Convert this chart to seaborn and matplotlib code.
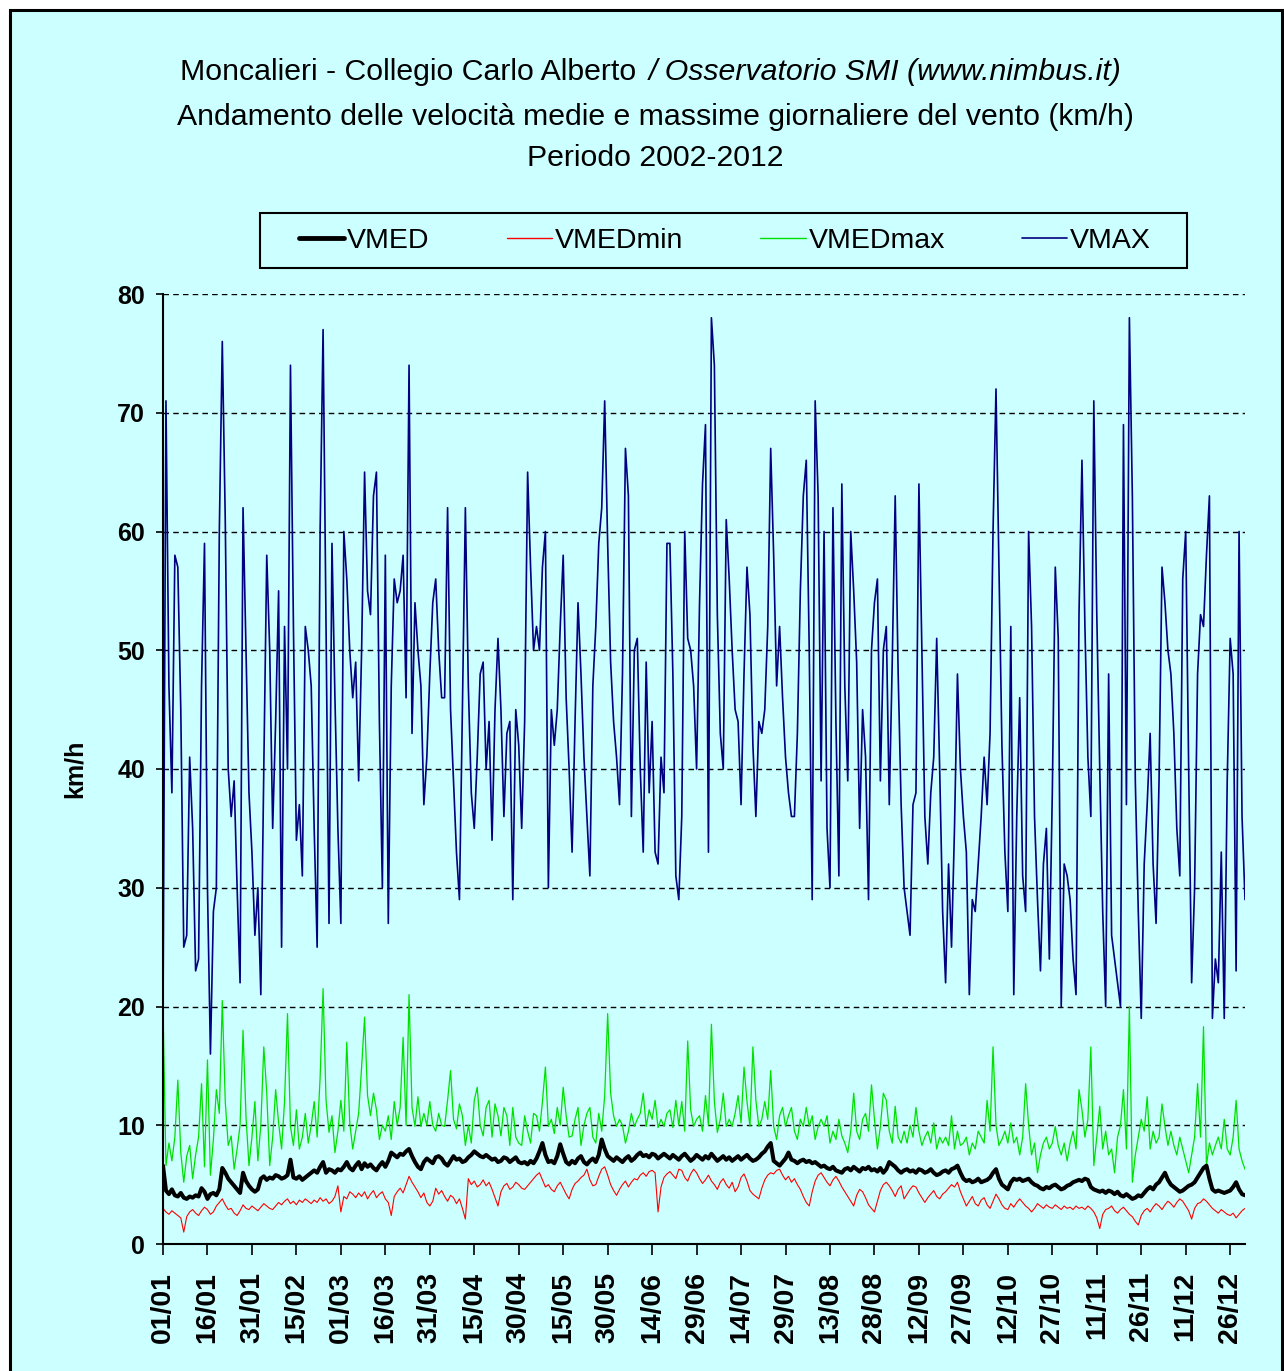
import numpy as np
import pandas as pd
import matplotlib
matplotlib.use('Agg')
import matplotlib.pyplot as plt
from matplotlib.patches import Rectangle
from matplotlib.lines import Line2D
import seaborn as sns

sns.set_style('white')
plt.rcParams['font.family'] = ['Liberation Sans', 'DejaVu Sans']
plt.rcParams['text.color'] = 'black'
plt.rcParams['xtick.color'] = 'black'
plt.rcParams['ytick.color'] = 'black'
plt.rcParams['axes.labelcolor'] = 'black'

# ── data: daily values, 01/01 .. 31/12 (leap year, 366 days) ──
tick_labels = ['01/01', '16/01', '31/01', '15/02', '01/03', '16/03', '31/03', '15/04',
               '30/04', '15/05', '30/05', '14/06', '29/06', '14/07', '29/07', '13/08',
               '28/08', '12/09', '27/09', '12/10', '27/10', '11/11', '26/11', '11/12', '26/12']

vmax = [19, 71, 47, 38, 58, 57, 45, 25, 26, 41,
        35, 23, 24, 47, 59, 30, 16, 28, 30, 60,
        76, 61, 40, 36, 39, 30, 22, 62, 50, 38,
        33, 26, 30, 21, 40, 58, 50, 35, 44, 55,
        25, 52, 40, 74, 52, 34, 37, 31, 52, 50,
        47, 35, 25, 60, 77, 52, 27, 59, 46, 35,
        27, 60, 56, 50, 46, 49, 39, 50, 65, 55,
        53, 63, 65, 44, 30, 58, 27, 47, 56, 54,
        55, 58, 46, 74, 43, 54, 50, 47, 37, 41,
        48, 54, 56, 50, 46, 46, 62, 45, 39, 33,
        29, 45, 62, 47, 38, 35, 41, 48, 49, 40,
        44, 34, 45, 51, 45, 36, 43, 44, 29, 45,
        42, 35, 44, 65, 57, 50, 52, 50, 57, 60,
        30, 45, 42, 45, 52, 58, 46, 40, 33, 44,
        54, 48, 41, 36, 31, 47, 52, 59, 62, 71,
        59, 49, 44, 41, 37, 48, 67, 63, 36, 50,
        51, 40, 33, 49, 38, 44, 33, 32, 41, 38,
        59, 59, 48, 31, 29, 36, 60, 51, 50, 47,
        40, 54, 64, 69, 33, 78, 74, 53, 43, 40,
        61, 56, 50, 45, 44, 37, 48, 57, 53, 42,
        36, 44, 43, 45, 52, 67, 58, 47, 52, 46,
        41, 38, 36, 36, 43, 55, 63, 66, 50, 29,
        71, 63, 39, 60, 35, 30, 62, 44, 31, 64,
        47, 39, 60, 55, 49, 35, 45, 41, 29, 50,
        54, 56, 39, 50, 52, 37, 49, 63, 48, 37,
        30, 28, 26, 37, 38, 64, 50, 36, 32, 38,
        41, 51, 40, 28, 22, 32, 25, 35, 48, 40,
        36, 33, 21, 29, 28, 32, 36, 41, 37, 43,
        60, 72, 57, 42, 33, 28, 52, 21, 36, 46,
        31, 28, 60, 52, 36, 29, 23, 32, 35, 24,
        38, 57, 51, 20, 32, 31, 29, 24, 21, 53,
        66, 52, 41, 36, 71, 53, 40, 28, 20, 48,
        26, 24, 22, 20, 69, 37, 78, 63, 39, 28,
        19, 32, 37, 43, 32, 27, 39, 57, 54, 50,
        48, 43, 35, 31, 56, 60, 40, 22, 30, 48,
        53, 52, 58, 63, 19, 24, 22, 33, 19, 39,
        51, 48, 23, 60, 36, 29]

vmedmax = [20, 6.6, 8.5, 7, 9, 13.8, 7.7, 5.2, 7.4, 8.3,
           5.5, 7.5, 9, 13.5, 6.5, 15.5, 5.8, 8.8, 13, 11,
           20.5, 12, 8.3, 9.1, 6.3, 8, 10, 18, 10.7, 6.6,
           9, 12, 7, 10, 16.6, 12.7, 6.6, 9, 13, 10.2,
           8, 12, 19.4, 9.9, 8.3, 11.3, 8, 9, 11, 8.5,
           10, 12, 9, 14, 21.5, 12.1, 9.4, 10.8, 7.7, 9.5,
           12.1, 9.5, 17, 10.2, 8, 9.5, 11, 14.9, 19.1, 12.5,
           10.8, 12.7, 11.3, 8.8, 10, 9.5, 10.8, 8.8, 12, 10,
           11.5, 17.4, 10, 21, 11.5, 9.9, 12.4, 9.9, 11, 10,
           12, 10, 9.5, 11, 10, 9.9, 12.1, 14.6, 10.5, 9.7,
           11.8, 10.8, 8.3, 10, 8.5, 12.1, 13.2, 10, 9.1, 11.5,
           12.1, 9, 11.8, 10.8, 9.1, 11.5, 10.8, 8.3, 11.5, 9,
           8.5, 8.3, 10.8, 9.5, 8.5, 11, 10.8, 9.5, 12, 14.9,
           9.9, 10.5, 9.3, 11.5, 10, 13.2, 10.8, 9, 9.1, 10.5,
           11.5, 8.3, 10, 11, 11.5, 9, 8.5, 11, 9.5, 12.5,
           19.4, 12.7, 10.8, 9.9, 10.5, 10, 8.5, 9.5, 11, 9.9,
           10.5, 11, 12.7, 9.9, 11.3, 10.5, 12.1, 9.8, 10.5, 9.9,
           11, 11.3, 9.8, 12.1, 10, 12, 9.5, 17.1, 11.3, 9.9,
           10.5, 10.8, 9.5, 12.5, 10, 18.5, 12, 9.4, 10.5, 12.7,
           9.9, 10.5, 9.9, 11, 12.5, 10.2, 14.9, 12, 9.9, 16.6,
           12.1, 9.9, 10.5, 12, 10.5, 14.6, 9.9, 8.8, 10.8, 11.5,
           9.9, 10.8, 11.5, 9.5, 8.8, 10.5, 9.9, 11.5, 9.9, 10.8,
           8.8, 9.9, 10.5, 9.9, 10.8, 8.5, 9.5, 8.8, 10.5, 9.1,
           8.5, 7.7, 9.5, 12.7, 9.5, 8.8, 10.5, 11, 9.5, 13.4,
           10.5, 8, 9.9, 12.7, 12.1, 9.5, 8.5, 11.6, 9, 8.5,
           9.5, 8.5, 10, 9, 11.5, 9.5, 8.3, 9, 9.5, 8.5,
           10.2, 8, 9, 8.5, 9, 8.3, 10.8, 8, 9.5, 8.3,
           8.5, 9, 7.5, 8.5, 8, 9.5, 9, 8.5, 12.1, 9.5,
           16.6, 10, 8.3, 8.8, 9.5, 8.5, 10.2, 8.5, 9, 7.5,
           9, 13.5, 10, 7.5, 8.5, 6, 7.5, 8.5, 9, 8,
           8.5, 9.9, 8.3, 7.5, 8.5, 7, 8.5, 9.5, 8, 13,
           11.3, 9, 10.5, 16.6, 6.6, 9, 11.6, 8, 9.5, 7.5,
           8, 6, 9, 10, 13, 8, 20, 5.2, 7.5, 9,
           10.5, 9.5, 12.4, 8, 9.5, 8.5, 9, 11.8, 9.9, 8.3,
           9.5, 8.3, 7.5, 9, 8, 7, 6, 7.5, 9, 13.5,
           9, 18.3, 6.6, 8.5, 7.5, 8.3, 9, 8, 10.5, 8,
           7.5, 9, 12.1, 8, 7, 6.3]

vmed = [6.6, 4.5, 4.2, 4.6, 4.1, 4.0, 4.3, 3.9, 3.8, 4.0,
        3.9, 4.1, 4.0, 4.7, 4.4, 3.8, 4.2, 4.3, 4.1, 4.6,
        6.4, 6.0, 5.5, 5.2, 4.9, 4.6, 4.3, 6.0, 5.3, 4.9,
        4.6, 4.4, 4.6, 5.5, 5.7, 5.4, 5.6, 5.5, 5.8, 5.7,
        5.5, 5.6, 5.8, 7.1, 5.6, 5.5, 5.7, 5.4, 5.6, 5.8,
        6.0, 6.2, 6.0, 6.5, 6.9, 6.0, 6.3, 6.2, 6.0, 6.3,
        6.2, 6.5, 6.9, 6.4, 6.2, 6.6, 6.9, 6.3, 6.8, 6.5,
        6.7, 6.4, 6.2, 6.6, 6.9, 6.5, 7.0, 7.7, 7.5, 7.3,
        7.6, 7.5, 7.8, 8.0, 7.4, 6.9, 6.5, 6.3, 6.9, 7.2,
        7.0, 6.8, 7.3, 7.4, 7.2, 6.8, 6.6, 7.0, 7.4, 7.1,
        7.2, 6.9, 7.0, 7.3, 7.5, 7.8, 7.6, 7.4, 7.3, 7.5,
        7.3, 7.1, 7.2, 6.9, 7.0, 7.3, 7.2, 6.9, 7.1, 7.3,
        6.9, 6.8, 6.9, 6.7, 7.0, 6.8, 7.2, 7.8, 8.5, 7.5,
        6.9, 7.0, 6.8, 7.4, 8.4, 7.6, 6.9, 6.7, 7.0, 6.8,
        7.2, 7.4, 6.9, 6.7, 7.0, 7.2, 6.9, 7.5, 8.8, 8.0,
        7.4, 7.2, 7.0, 7.3, 7.1, 6.9, 7.2, 7.4, 7.0, 7.2,
        7.5, 7.7, 7.4, 7.5, 7.3, 7.6, 7.5, 7.2, 7.4, 7.6,
        7.4, 7.2, 7.5, 7.3, 7.1, 7.4, 7.6, 7.3, 7.0, 7.2,
        7.5, 7.3, 7.1, 7.4, 7.2, 7.6, 7.3, 7.0, 7.2, 7.4,
        7.1, 7.3, 7.0, 7.2, 7.4, 7.1, 7.3, 7.5, 7.2, 7.0,
        7.1, 7.3, 7.6, 7.8, 8.2, 8.5, 7.0, 6.8, 6.6, 6.9,
        7.2, 7.7, 7.1, 7.0, 6.8, 7.0, 7.1, 6.9, 7.0, 6.8,
        6.9, 6.7, 6.5, 6.6, 6.4, 6.3, 6.5, 6.2, 6.1, 6.0,
        6.3, 6.4, 6.2, 6.5, 6.3, 6.1, 6.4, 6.3, 6.5, 6.2,
        6.3, 6.1, 6.4, 6.0, 6.3, 6.9, 6.7, 6.5, 6.2, 6.0,
        6.2, 6.3, 6.1, 6.2, 6.0, 6.3, 6.2, 6.0, 6.1, 6.3,
        6.0, 5.8, 5.9, 6.1, 6.2, 6.0, 6.3, 6.4, 6.6, 6.0,
        5.5, 5.3, 5.4, 5.2, 5.3, 5.5, 5.2, 5.3, 5.4, 5.6,
        6.0, 6.3, 5.5, 5.0, 4.8, 4.6, 5.2, 5.5, 5.4, 5.5,
        5.3, 5.4, 5.5, 5.2, 5.0, 4.9, 4.7, 4.6, 4.8, 4.7,
        4.9, 5.0, 4.8, 4.6, 4.7, 4.9, 5.0, 5.2, 5.3, 5.4,
        5.3, 5.5, 5.4, 4.8, 4.6, 4.5, 4.4, 4.5, 4.3, 4.5,
        4.4, 4.2, 4.4, 4.1, 4.0, 4.2, 4.0, 3.8, 3.9, 4.1,
        4.0, 4.3, 4.6, 4.8, 4.6, 5.0, 5.2, 5.6, 6.0, 5.4,
        5.0, 4.8, 4.6, 4.4, 4.5, 4.7, 4.9, 5.0, 5.2, 5.6,
        6.0, 6.4, 6.6, 5.5, 4.6, 4.4, 4.5, 4.4, 4.3, 4.4,
        4.5, 4.8, 5.2, 4.6, 4.2, 4.1]

vmedmin = [3.0, 2.7, 2.5, 2.8, 2.6, 2.4, 2.2, 1.0, 2.3, 2.7,
           2.9, 2.6, 2.4, 2.8, 3.1, 2.9, 2.5, 2.7, 3.2, 3.5,
           3.8, 3.3, 2.9, 3.0, 2.6, 2.4, 2.8, 3.3, 3.0, 2.9,
           3.2, 3.0, 2.8, 3.1, 3.4, 3.2, 3.0, 2.9, 3.2, 3.5,
           3.3, 3.6, 3.8, 3.4, 3.6, 3.3, 3.7, 3.5, 3.8, 3.6,
           3.4, 3.7, 3.5, 3.9, 3.6, 3.8, 3.4, 3.6, 4.0, 4.9,
           2.7, 4.0, 3.8, 4.4, 4.2, 3.9, 4.3, 4.0, 4.4, 3.8,
           4.2, 4.5, 3.9, 4.2, 4.4, 3.8, 3.5, 2.4, 4.0, 4.4,
           4.7, 4.3, 5.0, 5.7, 5.2, 4.8, 4.4, 3.9, 4.3, 3.5,
           3.2, 3.6, 4.7, 4.2, 4.5, 4.0, 3.6, 4.1, 3.9, 3.4,
           3.8, 3.0, 2.1, 5.5, 5.0, 5.3, 4.8, 5.0, 5.4, 4.9,
           5.2, 4.6, 3.9, 3.2, 4.4, 4.9, 5.1, 4.6, 4.8, 5.2,
           5.0, 4.7, 4.6, 4.9, 5.2, 5.5, 5.8, 6.0, 5.4, 4.8,
           5.0, 4.6, 4.4, 4.9, 5.2, 4.7, 4.2, 3.8, 4.6, 5.1,
           5.3, 5.6, 5.8, 6.3, 5.4, 4.9, 5.0, 5.7, 6.3, 6.5,
           5.8, 5.0, 4.5, 4.1, 4.6, 5.0, 5.3, 4.8, 5.2, 5.5,
           5.4, 5.8, 6.0, 5.7, 6.1, 6.2, 6.0, 2.7, 4.8, 5.6,
           5.9, 6.1, 5.8, 5.5, 6.3, 6.2, 5.6, 5.3, 5.9, 6.3,
           6.0, 5.5, 5.1, 5.4, 5.8, 5.3, 5.0, 4.6, 5.2, 5.5,
           5.0, 4.7, 5.2, 4.4, 4.8, 5.6, 5.9, 5.3, 4.5, 4.2,
           4.0, 3.8, 4.7, 5.4, 5.8, 6.0, 5.9, 6.2, 6.3, 5.8,
           5.4, 5.7, 5.2, 5.5, 5.0, 4.6, 4.0, 3.5, 3.2, 4.4,
           5.3, 5.8, 6.0, 5.6, 5.2, 4.9, 5.4, 5.7, 5.3, 4.8,
           4.4, 4.0, 3.6, 3.2, 4.1, 4.6, 4.4, 3.9, 3.3, 3.0,
           2.7, 3.6, 4.5, 5.0, 5.2, 4.9, 4.5, 4.0, 4.6, 4.9,
           3.8, 4.2, 4.6, 4.9, 4.8, 4.3, 3.9, 3.5, 3.9, 4.2,
           4.5, 4.0, 3.8, 4.2, 4.4, 4.7, 5.0, 4.8, 5.2, 4.4,
           3.8, 3.2, 3.6, 4.0, 3.4, 3.2, 3.7, 3.9, 3.3, 3.0,
           3.6, 4.2, 3.8, 3.3, 3.0, 2.9, 3.4, 3.1, 3.5, 3.8,
           3.5, 3.2, 3.0, 2.7, 3.0, 3.4, 3.2, 3.0, 3.3, 3.1,
           3.0, 3.3, 3.1, 2.9, 3.2, 3.0, 3.1, 2.9, 3.2, 3.0,
           3.1, 2.9, 3.2, 3.0, 2.7, 2.2, 1.3, 2.5, 2.9, 3.0,
           3.2, 2.8, 2.6, 2.9, 3.1, 2.8, 2.5, 2.3, 1.9, 1.6,
           2.4, 2.8, 3.0, 2.7, 3.1, 3.4, 3.2, 2.9, 3.3, 3.6,
           3.4, 3.1, 3.5, 3.8, 3.6, 3.2, 2.8, 2.1, 3.0, 3.4,
           3.5, 3.8, 3.6, 3.3, 3.0, 2.8, 2.6, 2.9, 2.7, 2.5,
           2.4, 2.6, 2.2, 2.5, 2.8, 3.0]

df = pd.DataFrame({'VMED': vmed, 'VMEDmin': vmedmin, 'VMEDmax': vmedmax, 'VMAX': vmax})
df['giorno'] = np.arange(len(df))

BG = '#CCFFFF'
W, H = 1284, 1371
fig = plt.figure(figsize=(W / 100, H / 100), dpi=100, facecolor='white')

# chart area with black border (bottom edge falls outside the picture)
fig.add_artist(Rectangle((10 / W, -20 / H), 1272 / W, 1381 / H, transform=fig.transFigure,
                         facecolor=BG, edgecolor='black', linewidth=2.2, zorder=-10))

ax = fig.add_axes([163 / W, 1 - 1244 / H, (1245 - 163) / W, (1244 - 294) / H])
ax.set_facecolor('none')

styles = {'VMAX': ('#000080', 1.2), 'VMEDmax': ('#00E000', 0.9),
          'VMEDmin': ('#FF0000', 0.8), 'VMED': ('black', 2.9)}
for col in ['VMAX', 'VMEDmax', 'VMEDmin', 'VMED']:
    color, lw = styles[col]
    sns.lineplot(data=df, x='giorno', y=col, ax=ax, color=color, linewidth=lw, legend=False)

ax.set_xlim(0, 365)
ax.set_ylim(0, 80)
ax.set_yticks(range(0, 81, 10))
ax.set_xticks(df['giorno'][::15])
ax.set_xticklabels(tick_labels, rotation=90, fontsize=20.5, fontweight='bold', color='black')
for t in ax.get_yticklabels():
    t.set_fontsize(18)
    t.set_fontweight('bold')
    t.set_color('black')
ax.set_xlabel('')
ax.set_ylabel('')
ax.tick_params(axis='y', direction='out', length=5, width=1.2, pad=8, left=True, colors='black')
ax.tick_params(axis='x', direction='out', length=8, width=1.2, pad=12, bottom=True, colors='black')
for y in range(10, 81, 10):
    ax.axhline(y, color='black', linewidth=1.0, linestyle=(0, (4, 3)), zorder=0)
sns.despine(ax=ax)
for s in ['left', 'bottom']:
    ax.spines[s].set_color('black')
    ax.spines[s].set_linewidth(1.5)

fig.text(75 / W, 1 - 769 / H, 'km/h', rotation=90, ha='center', va='center',
         fontsize=18, fontweight='bold', color='black')

# title
TS = 21.8
fig.text(636 / W, 1 - 72 / H, 'Moncalieri - Collegio Carlo Alberto', ha='right', va='center',
         fontsize=TS, color='black')
fig.text(649 / W, 1 - 72 / H, '/ Osservatorio SMI (www.nimbus.it)', ha='left', va='center',
         fontsize=TS, style='italic', color='black')
fig.text(655 / W, 1 - 117 / H,
         'Andamento delle velocità medie e massime giornaliere del vento (km/h)',
         ha='center', va='center', fontsize=TS, color='black')
fig.text(655 / W, 1 - 158 / H, 'Periodo 2002-2012', ha='center', va='center', fontsize=TS,
         color='black')

# legend box
fig.add_artist(Rectangle((260 / W, 1 - 268 / H), 927 / W, 55 / H, transform=fig.transFigure,
                         facecolor=BG, edgecolor='black', linewidth=1.5))
handles = [Line2D([], [], color=styles[c][0], linewidth=max(styles[c][1], 1.0) * (1.2 if c == 'VMED' else 1))
           for c in ['VMED', 'VMEDmin', 'VMEDmax', 'VMAX']]
leg = fig.legend(handles, ['VMED', 'VMEDmin', 'VMEDmax', 'VMAX'], loc='center',
                 bbox_to_anchor=(725 / W, 1 - 240.5 / H), ncol=4, frameon=False, fontsize=20.5,
                 handlelength=1.6, handletextpad=0.1, columnspacing=2.7)
for t in leg.get_texts():
    t.set_color('black')

fig.savefig('out.png', dpi=100, facecolor='white')
